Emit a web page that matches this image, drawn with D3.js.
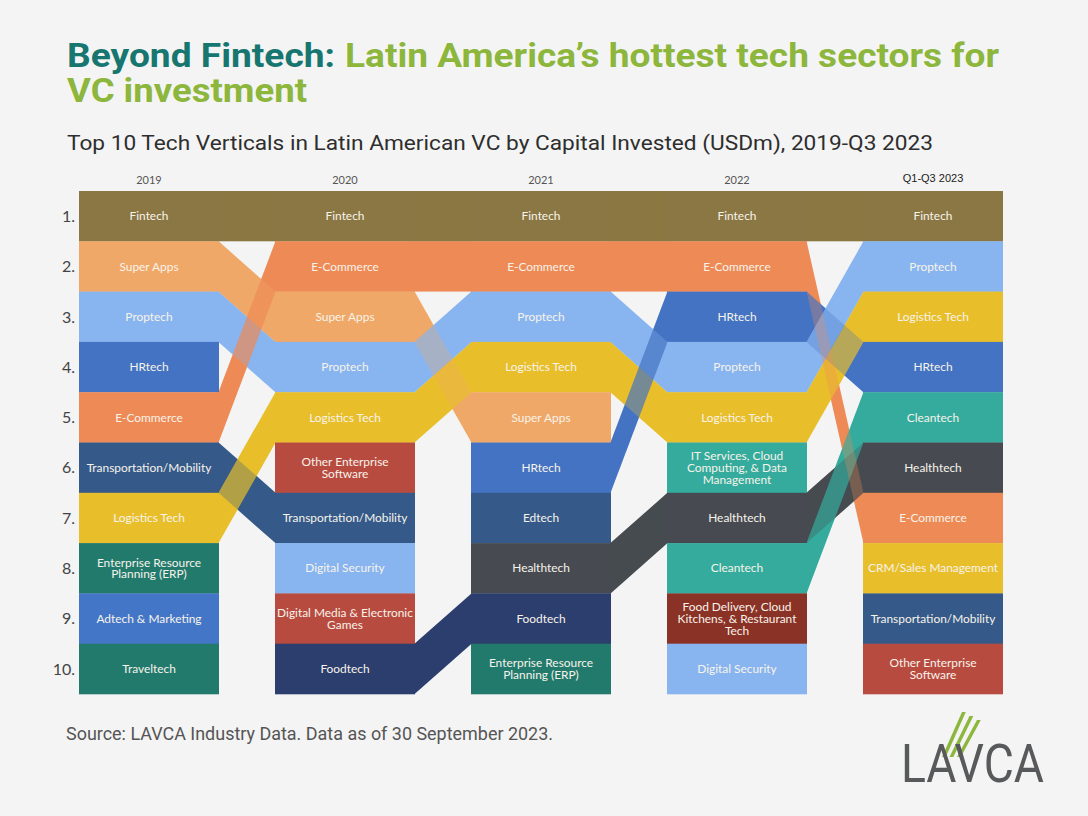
<!DOCTYPE html>
<html>
<head>
<meta charset="utf-8">
<script src="https://cdn.jsdelivr.net/npm/d3@7"></script>
<style>
  html, body { margin: 0; padding: 0; background: #f4f4f4; }
  svg { display: block; }
</style>
</head>
<body>
<svg id="chart" width="1088" height="816"></svg>
<script>
// ---------------- DATA ----------------
const years = ["2019", "2020", "2021", "2022", "Q1-Q3 2023"];
const ranks = [1, 2, 3, 4, 5, 6, 7, 8, 9, 10];

const rank2019 = ["Fintech", "Super Apps", "Proptech", "HRtech", "E-Commerce",
  "Transportation/Mobility", "Logistics Tech", "Enterprise Resource Planning (ERP)",
  "Adtech & Marketing", "Traveltech"];
const rank2020 = ["Fintech", "E-Commerce", "Super Apps", "Proptech", "Logistics Tech",
  "Other Enterprise Software", "Transportation/Mobility", "Digital Security",
  "Digital Media & Electronic Games", "Foodtech"];
const rank2021 = ["Fintech", "E-Commerce", "Proptech", "Logistics Tech", "Super Apps",
  "HRtech", "Edtech", "Healthtech", "Foodtech", "Enterprise Resource Planning (ERP)"];
const rank2022 = ["Fintech", "E-Commerce", "HRtech", "Proptech", "Logistics Tech",
  "IT Services, Cloud Computing, & Data Management", "Healthtech", "Cleantech",
  "Food Delivery, Cloud Kitchens, & Restaurant Tech", "Digital Security"];
const rank2023 = ["Fintech", "Proptech", "Logistics Tech", "HRtech", "Cleantech",
  "Healthtech", "E-Commerce", "CRM/Sales Management", "Transportation/Mobility",
  "Other Enterprise Software"];
const rankings = [rank2019, rank2020, rank2021, rank2022, rank2023];

const categories = ["Fintech", "Super Apps", "E-Commerce", "Proptech", "HRtech",
  "Transportation/Mobility", "Logistics Tech", "Enterprise Resource Planning (ERP)",
  "Adtech & Marketing", "Traveltech", "Other Enterprise Software", "Digital Security",
  "Digital Media & Electronic Games", "Foodtech", "Edtech", "Healthtech",
  "IT Services, Cloud Computing, & Data Management", "Cleantech",
  "Food Delivery, Cloud Kitchens, & Restaurant Tech", "CRM/Sales Management"];
const categoryColors = ["#8a7743", "#f0a868", "#ee8a55", "#88b5f0", "#4473c3",
  "#355a89", "#e8bf2b", "#227a6d",
  "#4476c8", "#227a6d", "#b84b3f", "#88b5f0",
  "#b84b3f", "#2c3e6e", "#355a89", "#474b51",
  "#34ab9d", "#34ab9d",
  "#8b3227", "#e8bf2b"];
const categoryLines = {
  "Enterprise Resource Planning (ERP)": ["Enterprise Resource", "Planning (ERP)"],
  "Other Enterprise Software": ["Other Enterprise", "Software"],
  "Digital Media & Electronic Games": ["Digital Media & Electronic", "Games"],
  "IT Services, Cloud Computing, & Data Management": ["IT Services, Cloud", "Computing, & Data", "Management"],
  "Food Delivery, Cloud Kitchens, & Restaurant Tech": ["Food Delivery, Cloud", "Kitchens, & Restaurant", "Tech"]
};

const titleA = "Beyond Fintech:";
const titleB = "Latin America’s hottest tech sectors for";
const titleC = "VC investment";
const subtitle = "Top 10 Tech Verticals in Latin American VC by Capital Invested (USDm), 2019-Q3 2023";
const source = "Source: LAVCA Industry Data. Data as of 30 September 2023.";

// ---------------- CHART ----------------
const svg = d3.select("#chart");
svg.append("rect").attr("width", 1088).attr("height", 816).attr("fill", "#f4f4f4");

const color = d3.scaleOrdinal().domain(categories).range(categoryColors);
const x = d3.scaleBand().domain(years).range([79, 1003]).paddingInner(0.2857).paddingOuter(0);
const y = d3.scaleLinear().domain([1, 11]).range([191, 694]);
const bw = x.bandwidth();
const rh = y(2) - y(1);

// Titles
function fitText(sel, x0, yb, txt, len, size, weight, fill, family) {
  return sel.append("text").attr("x", x0).attr("y", yb).text(txt)
    .attr("font-family", family).attr("font-size", size).attr("font-weight", weight)
    .attr("fill", fill).attr("textLength", len).attr("lengthAdjust", "spacingAndGlyphs");
}
const tf = "Roboto, 'Liberation Sans', sans-serif";
fitText(svg, 67, 67, titleA, 268, 33.5, 700, "#17766f", tf);
fitText(svg, 345, 67, titleB, 654, 33.5, 700, "#8cb63c", tf);
fitText(svg, 67, 102, titleC, 240, 33.5, 700, "#8cb63c", tf);
fitText(svg, 67, 150, subtitle, 866, 21, 400, "#2e2e2e", tf);
fitText(svg, 66, 740, source, 487, 18, 400, "#555", tf);

// Column headers
svg.append("g").selectAll("text").data(years).join("text")
  .attr("x", d => x(d) + bw / 2)
  .attr("y", d => d.startsWith("Q") ? 182 : 184)
  .attr("text-anchor", "middle")
  .attr("font-family", d => d.startsWith("Q") ? "'Liberation Sans', Arial, sans-serif" : "Lato, sans-serif")
  .attr("font-size", 11)
  .attr("fill", d => d.startsWith("Q") ? "#222" : "#555")
  .text(d => d);

// Row labels
svg.append("g").selectAll("text").data(ranks).join("text")
  .attr("x", 75).attr("y", d => y(d) + rh / 2)
  .attr("dy", "0.36em")
  .attr("text-anchor", "end")
  .attr("font-family", "Lato, sans-serif").attr("font-size", 16)
  .attr("fill", "#444")
  .text(d => d + ".");

// Ribbons
const ribbons = [];
for (let i = 0; i < years.length - 1; i++) {
  const a = rankings[i], b = rankings[i + 1];
  a.forEach((cat, ia) => {
    const ib = b.indexOf(cat);
    if (ib >= 0) ribbons.push({ cat, y0: years[i], y1: years[i + 1], r0: ia + 1, r1: ib + 1 });
  });
}
// lower target rank drawn last (on top)
ribbons.sort((p, q) => d3.descending(p.r1, q.r1));
const ribbonPath = d => {
  const x1 = x(d.y0) + bw, x2 = x(d.y1);
  return `M${x1 - 0.5},${y(d.r0)}L${x2 + 0.5},${y(d.r1)}L${x2 + 0.5},${y(d.r1) + rh}L${x1 - 0.5},${y(d.r0) + rh}Z`;
};
const rg = svg.append("g");
rg.selectAll("path.p1").data(ribbons).join("path").attr("class", "p1")
  .attr("d", ribbonPath).attr("fill", d => color(d.cat));
rg.selectAll("path.p2").data(ribbons.slice().reverse()).join("path").attr("class", "p2")
  .attr("d", ribbonPath).attr("fill", d => color(d.cat)).attr("fill-opacity", 0.3);

// Boxes
const boxes = [];
rankings.forEach((list, i) => list.forEach((cat, j) => boxes.push({ cat, year: years[i], rank: j + 1 })));
const bg = svg.append("g");
bg.selectAll("rect").data(boxes).join("rect")
  .attr("x", d => x(d.year)).attr("y", d => y(d.rank))
  .attr("width", bw).attr("height", rh + 0.3)
  .attr("fill", d => color(d.cat));

const lh = 11.8;
const labels = bg.selectAll("text").data(boxes).join("text")
  .attr("text-anchor", "middle")
  .attr("font-family", "Lato, 'Noto Sans', sans-serif")
  .attr("font-size", 11.9)
  .attr("fill", "#f7f3ea");
labels.each(function (d) {
  const lines = categoryLines[d.cat] || [d.cat];
  const cx = x(d.year) + bw / 2;
  const cy = y(d.rank) + rh / 2;
  const t = d3.select(this);
  lines.forEach((ln, k) => {
    t.append("tspan").attr("x", cx)
      .attr("y", cy + (k - (lines.length - 1) / 2) * lh)
      .attr("dy", "0.35em").text(ln);
  });
});

// Logo
const logo = svg.append("g");
[0, 1, 2].forEach(k => {
  const tx = 962 + k * 7.5, by = 757;
  logo.append("path")
    .attr("d", `M${tx},${712 + k * 4}L${tx + 3.8},${712 + k * 4}L${tx + 3.8 - 20},${by}L${tx - 20},${by}Z`)
    .attr("fill", "#8cb63c");
});
logo.append("text").attr("x", 901).attr("y", 782).text("LAVCA")
  .attr("font-family", "Roboto, 'Liberation Sans', sans-serif").attr("font-weight", 400)
  .attr("font-size", 54).attr("fill", "#58595b")
  .attr("textLength", 143).attr("lengthAdjust", "spacingAndGlyphs");
</script>
</body>
</html>
